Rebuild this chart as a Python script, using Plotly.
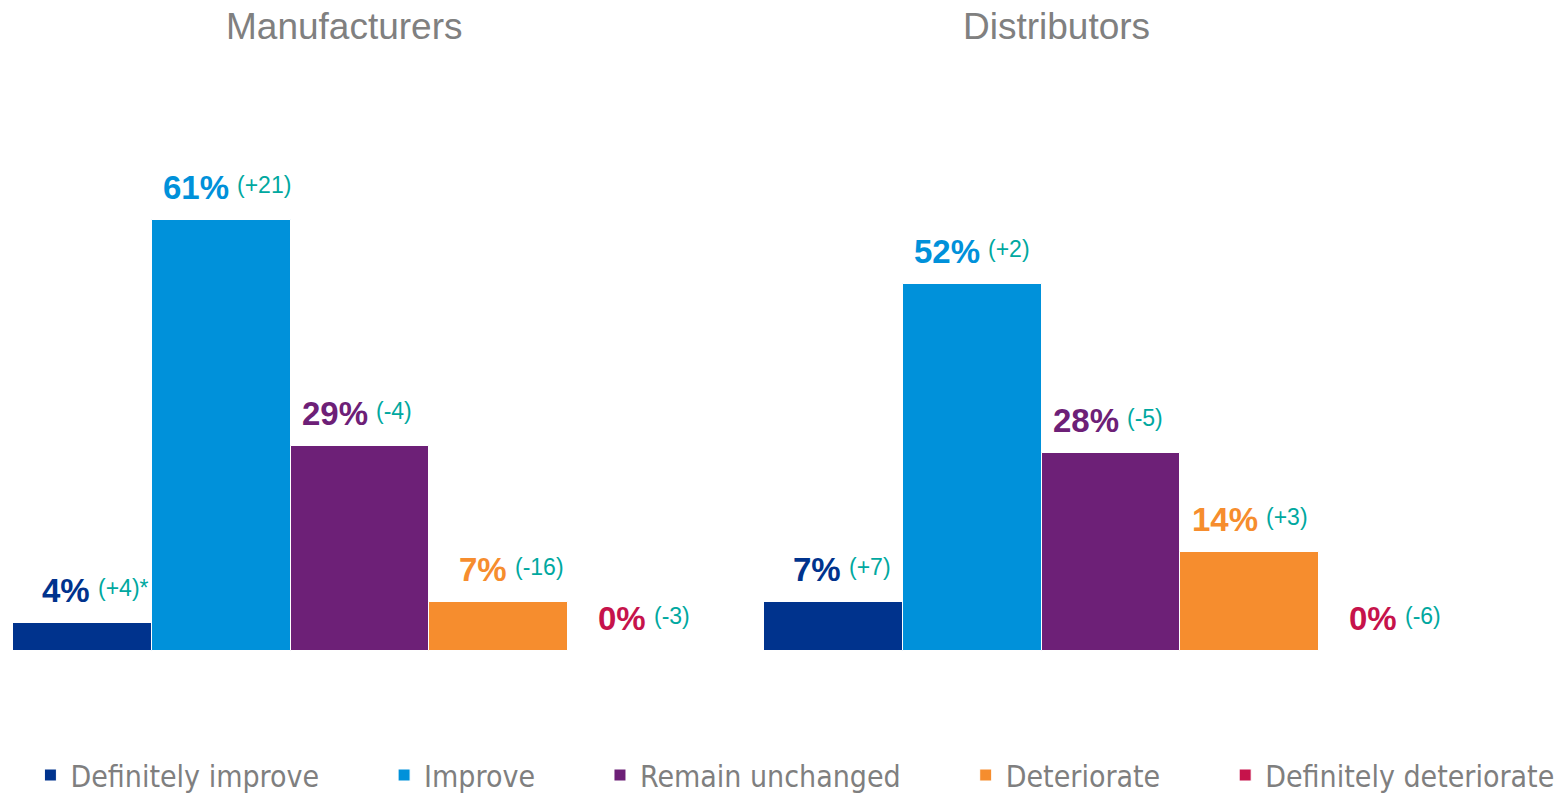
import plotly.graph_objects as go

categories = ["Definitely improve", "Improve", "Remain unchanged", "Deteriorate", "Definitely deteriorate"]
colors = ["#00338D", "#0091DA", "#6D2077", "#F68D2E", "#C6134B"]
delta_color = "#00A8A0"

manufacturers = [4, 61, 29, 7, 0]
manufacturers_delta = ["(+4)*", "(+21)", "(-4)", "(-16)", "(-3)"]
distributors = [7, 52, 28, 14, 0]
distributors_delta = ["(+7)", "(+2)", "(-5)", "(+3)", "(-6)"]

groups = [("Manufacturers", manufacturers, manufacturers_delta),
          ("Distributors", distributors, distributors_delta)]

W, H = 1560, 794
LABEL_FONT = "Liberation Sans, Arial, sans-serif"
LEGEND_FONT = "DejaVu Sans Condensed, Liberation Sans Narrow, sans-serif"
TITLE_FONT = "Liberation Sans, Arial, sans-serif"

fig = go.Figure()
x_domains = [[13 / W, 707 / W], [764 / W, 1458 / W]]
y0_px, ytop_px = 651, 157
y_domain = [1 - y0_px / H, 1 - ytop_px / H]
YMAX = (y0_px - ytop_px) / 7.06
PAD = "&nbsp;" * 7

for gi, (gname, vals, deltas) in enumerate(groups):
    xa = "x" if gi == 0 else "x2"
    ya = "y" if gi == 0 else "y2"
    for ci, cat in enumerate(categories):
        fig.add_trace(go.Bar(
            x=[cat], y=[vals[ci]],
            name=cat + (PAD if ci < len(categories) - 1 else ""),
            legendgroup=cat,
            showlegend=(gi == 0), xaxis=xa, yaxis=ya,
            marker=dict(color=colors[ci], line=dict(color="white", width=1)),
            hoverinfo="skip",
        ))
        fig.add_annotation(
            xref=xa, yref=ya, x=cat, y=vals[ci], yanchor="bottom", xanchor="right",
            yshift=12, xshift=10, showarrow=False,
            text=f"<b>{vals[ci]}%</b>",
            font=dict(family=LABEL_FONT, size=33, color=colors[ci]),
        )
        fig.add_annotation(
            xref=xa, yref=ya, x=cat, y=vals[ci], yanchor="bottom", xanchor="left",
            yshift=20, xshift=14, showarrow=False,
            text=deltas[ci],
            font=dict(family=LABEL_FONT, size=23, color=delta_color),
        )

fig.update_layout(
    xaxis=dict(domain=x_domains[0], type="category", categoryarray=categories,
               range=[-0.5, 4.5], visible=False, fixedrange=True),
    xaxis2=dict(domain=x_domains[1], type="category", categoryarray=categories,
                range=[-0.5, 4.5], visible=False, fixedrange=True, anchor="y2"),
    yaxis=dict(domain=y_domain, range=[0, YMAX], visible=False, fixedrange=True),
    yaxis2=dict(domain=y_domain, range=[0, YMAX], visible=False, anchor="x2", fixedrange=True),
    barmode="overlay", bargap=0,
    width=W, height=H,
    margin=dict(l=0, r=0, t=0, b=0, autoexpand=False),
    paper_bgcolor="white", plot_bgcolor="white",
    showlegend=True,
    legend=dict(orientation="h", x=0.0195, xanchor="left", y=1 - 775 / H, yanchor="middle",
                font=dict(family=LEGEND_FONT, size=30, color="#7F7F7F"),
                itemwidth=30, traceorder="normal"),
)

for name, cx in [("Manufacturers", 344), ("Distributors", 1056)]:
    fig.add_annotation(xref="paper", yref="paper", x=cx / W, y=1 - 27 / H,
                       xanchor="center", yanchor="middle", text=name, showarrow=False,
                       font=dict(family=TITLE_FONT, size=37, color="#808080"))

fig.write_html("out.html", config={"displayModeBar": False},
               post_script="document.body.style.margin='0';document.body.style.overflow='hidden';")
